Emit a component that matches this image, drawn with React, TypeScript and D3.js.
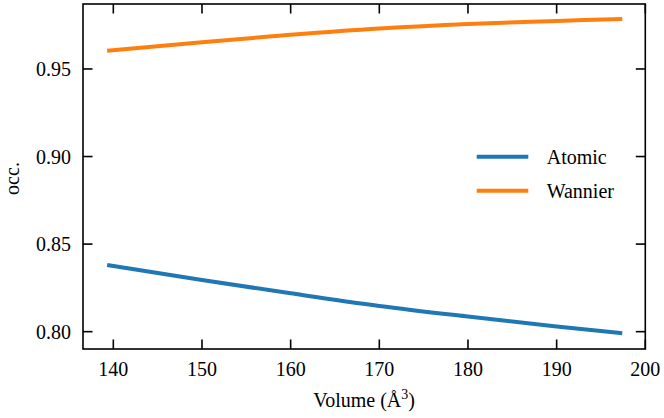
import React from "react";
import * as d3 from "d3";

const volumes = [139.3, 150, 160, 170, 180, 190, 197.4];
const atomic = [0.8381, 0.8295, 0.8219, 0.8147, 0.8086, 0.8029, 0.7991];
const wannier = [0.9604, 0.9653, 0.9695, 0.9731, 0.9757, 0.9774, 0.9786];
const xTicks = [140, 150, 160, 170, 180, 190, 200];
const yTicks = [0.8, 0.85, 0.9, 0.95];
const seriesNames = ["Atomic", "Wannier"];
const seriesColors = ["#1f77b4", "#ff7f0e"];

const W = 664;
const H = 418;
const left = 83;
const right = 645.3;
const top = 4;
const bottom = 349;
const font = "Liberation Serif, DejaVu Serif, serif";

export default function App() {
  const x = d3.scaleLinear().domain([136.58, 200]).range([left, right]);
  const y = d3.scaleLinear().domain([0.7901, 0.9871]).range([bottom, top]);
  const line = d3
    .line<[number, number]>()
    .x((d) => x(d[0]))
    .y((d) => y(d[1]))
    .curve(d3.curveMonotoneX);
  const series = [atomic, wannier];
  const tickLen = 9.5;
  return (
    <svg
      width={W}
      height={H}
      style={{ position: "absolute", left: 0, top: 0, background: "#fff", fontFamily: font }}
    >
      <rect x={0} y={0} width={W} height={H} fill="#fff" />
      {series.map((vals, i) => (
        <path
          key={i}
          d={line(volumes.map((v, j) => [v, vals[j]] as [number, number])) || ""}
          fill="none"
          stroke={seriesColors[i]}
          strokeWidth={4}
        />
      ))}
      {xTicks.map((t) => (
        <g key={"x" + t}>
          <line x1={x(t)} x2={x(t)} y1={bottom} y2={bottom - tickLen} stroke="#000" strokeWidth={1.6} />
          <line x1={x(t)} x2={x(t)} y1={top} y2={top + tickLen} stroke="#000" strokeWidth={1.6} />
          <text x={x(t)} y={376} textAnchor="middle" fontSize={20} fill="#000">
            {t}
          </text>
        </g>
      ))}
      {yTicks.map((t) => (
        <g key={"y" + t}>
          <line x1={left} x2={left + tickLen} y1={y(t)} y2={y(t)} stroke="#000" strokeWidth={1.6} />
          <line x1={right} x2={right - tickLen} y1={y(t)} y2={y(t)} stroke="#000" strokeWidth={1.6} />
          <text x={71} y={y(t) + 7} textAnchor="end" fontSize={20} fill="#000">
            {d3.format(".2f")(t)}
          </text>
        </g>
      ))}
      <rect
        x={left}
        y={top}
        width={right - left}
        height={bottom - top}
        fill="none"
        stroke="#000"
        strokeWidth={1.6}
      />
      <text x={(left + right) / 2} y={407} textAnchor="middle" fontSize={20} fill="#000">
        Volume (Å
        <tspan dy={-8} fontSize={14}>3</tspan>
        <tspan dy={8}>)</tspan>
      </text>
      <text
        transform={`translate(19, ${(top + bottom) / 2 + 2}) rotate(-90)`}
        textAnchor="middle"
        fontSize={20}
        fill="#000"
      >
        occ.
      </text>
      {seriesNames.map((n, i) => (
        <g key={n}>
          <line
            x1={476.7}
            x2={528.3}
            y1={156.7 + i * 34}
            y2={156.7 + i * 34}
            stroke={seriesColors[i]}
            strokeWidth={4}
          />
          <text x={546.7} y={156.7 + i * 34 + 7} fontSize={20} fill="#000">
            {n}
          </text>
        </g>
      ))}
    </svg>
  );
}
